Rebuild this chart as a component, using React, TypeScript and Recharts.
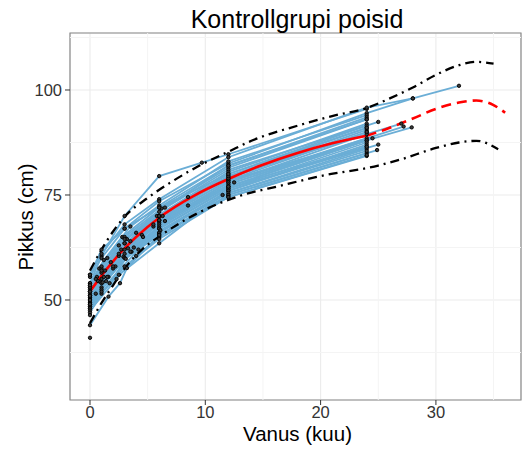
import React from 'react';
import { ComposedChart, Line, XAxis, YAxis, CartesianGrid, ReferenceLine, ReferenceArea } from 'recharts';

// Individual growth measurements (age in months, height in cm)
const kidAges: number[][] = [
  [0, 1, 3, 6, 9.7, 12, 24],
  [0, 1, 3, 6, 12, 24, 28, 32],
  [0, 1, 3, 6, 12, 24, 28],
  [0, 1.2, 3.5, 6, 12, 24],
  [0, 0.8, 2.8, 6, 12, 24],
  [0, 1.5, 3, 6.2, 12, 24],
  [0, 1, 2.5, 6, 12, 25],
  [0, 0.6, 3.2, 5.8, 12, 24],
  [0, 1.8, 4, 6, 12, 24],
  [0, 1, 3, 6, 12, 27],
  [0, 1.3, 2.7, 6.3, 12, 24],
  [0, 0.7, 3.5, 6, 12, 27.9],
  [0, 2, 4.5, 6, 12, 24],
  [0, 1, 3, 5.5, 12, 24],
  [0, 1.2, 2.5, 6, 12, 27.2],
  [0, 0.9, 3.3, 6, 12, 24],
  [0, 1.6, 3.8, 6.5, 12, 24],
  [0, 1, 3, 6, 12, 24],
  [0, 1.1, 2.9, 6, 12, 24],
  [0, 0.5, 2.2, 6, 12, 25],
  [0, 1.4, 3.6, 6.1, 12, 24],
  [0, 1, 3, 6, 12, 24],
  [0, 1.7, 3.1, 6, 12, 24],
  [0, 1, 4.2, 6, 12, 24.9],
  [0, 2.3, 4, 6, 12, 24],
  [0, 1, 3, 6, 12, 24],
  [0, 1.6, 2.6, 3.2, 6, 12, 24],
  [0],
  [0],
  [0, 2, 4.6, 8.5, 12, 24],
  [0, 0.5, 2.5, 5.5, 12, 24],
  [0, 1.5, 3.5, 8.5, 12.5, 24.5],
  [0, 1, 3, 6.5, 12, 24],
  [0, 1, 2.5, 6, 11.5, 24],
  [0, 1, 3, 6, 12, 24],
  [0, 1, 3, 6, 12, 24],
];

const kidHeights: number[][] = [
  [54, 60.5, 70, 79.5, 82.7, 84.7, 95.5],
  [56, 61, 68, 74, 84, 95.8, 98, 101],
  [55.5, 60, 67, 73.5, 82.5, 94.5, 98],
  [54, 59.5, 67.5, 72.5, 83, 94],
  [53.5, 57.5, 65, 72, 82, 93.5],
  [53, 60, 65, 71.8, 81.5, 93],
  [52.5, 57.5, 63, 71, 81, 92.4],
  [52, 55.5, 64.5, 70, 80.5, 92],
  [52, 59, 66, 70, 80, 91.5],
  [51.5, 56.5, 63.5, 70, 79.5, 92],
  [51, 57, 62, 70, 79, 90.5],
  [51, 54.5, 64, 69, 78.5, 91.1],
  [50.5, 57.5, 65.5, 69, 78.5, 90],
  [50.5, 55, 62, 67.5, 78, 89.5],
  [50, 55.5, 60.5, 68.5, 78, 91.3],
  [50, 54.3, 62.3, 68, 77.5, 88.5],
  [49.5, 55.5, 62.5, 68.8, 77, 88],
  [49.5, 54, 61, 67.5, 77, 88],
  [49, 54.2, 60.3, 67, 76.5, 87.5],
  [49, 51.5, 58, 67, 76.5, 87],
  [48.5, 54.5, 61.5, 66.6, 76, 87],
  [48.5, 53, 60, 66, 76, 86.5],
  [48, 54, 59.8, 66, 75.5, 86],
  [48, 52.5, 62, 65.5, 75, 85.7],
  [47.5, 55, 60.5, 65, 75, 85],
  [47, 51.5, 58, 64.5, 74.5, 84.3],
  [44, 50.8, 54, 57.6, 65.5, 74.5, 84.5],
  [41],
  [46.4],
  [52, 58, 65, 74.5, 79, 90],
  [53, 55, 61, 68, 79.5, 91],
  [50, 55.5, 61.5, 72.5, 78, 88.5],
  [51, 57, 64.5, 72, 82, 93],
  [49, 52, 56, 63.5, 75, 85.5],
  [56, 62, 67, 72, 80, 91],
  [53.5, 58, 63.5, 69, 77, 86.5],
];

// Reference curves
const medianAges = [0, 1, 2, 3, 4, 6, 9, 12, 15, 18, 21, 24];
const medianValues = [52, 55.8, 59.2, 62.3, 65, 69.6, 74.8, 78.8, 82.2, 85, 87.3, 89.1];
const medianProjAges = [24, 26, 28, 30, 32, 33.5, 35, 36];
const medianProjValues = [89.1, 91, 93.2, 95.5, 97, 97.5, 96.4, 94.6];
const upperAges = [0, 1, 2, 3, 5, 7, 9.5, 12, 14, 18, 21, 24, 26, 28, 30, 32, 33.5, 35];
const upperValues = [57, 62, 66.3, 69.8, 74.3, 78, 82, 85.3, 87.9, 91.5, 93.8, 95.7, 98, 100.6, 103.6, 105.9, 106.7, 106.3];
const lowerAges = [0, 1, 2, 3, 4.5, 6, 9.5, 13, 16.5, 20, 25, 27, 30, 32, 33.5, 35.4];
const lowerValues = [44.5, 49.3, 53.5, 57.5, 62, 65.1, 70.9, 74.8, 77.2, 79.5, 82, 83.5, 86.2, 87.5, 87.9, 85.9];

const xTicks = [0, 10, 20, 30];
const yTicks = [50, 75, 100];
const xMinor = [5, 15, 25, 35];
const yMinor = [37.5, 62.5, 87.5, 112.5];

const X_DOMAIN: [number, number] = [-1.735, 37.38];
const Y_DOMAIN: [number, number] = [26.19, 113.57];

const toPoints = (xs: number[], ys: number[]) => xs.map((x, i) => ({ x, y: ys[i] }));

const FONT = '"Liberation Sans", Arial, Helvetica, sans-serif';

export default function App() {
  const tickStyle = { fontSize: 16.5, fill: '#333333', fontFamily: FONT };
  return (
    <div style={{ position: 'absolute', left: 0, top: 0, width: 522, height: 451, background: '#fff' }}>
      <ComposedChart
        width={522}
        height={451}
        margin={{ top: 33, right: 1, bottom: 21, left: 0 }}
      >
        <CartesianGrid stroke="#ebebeb" strokeWidth={1.1} />
        {xMinor.map((v) => (
          <ReferenceLine key={'xm' + v} x={v} stroke="#f4f4f4" strokeWidth={1} />
        ))}
        {yMinor.map((v) => (
          <ReferenceLine key={'ym' + v} y={v} stroke="#f4f4f4" strokeWidth={1} />
        ))}
        <XAxis
          type="number"
          dataKey="x"
          domain={X_DOMAIN}
          ticks={xTicks}
          allowDataOverflow
          height={30}
          axisLine={false}
          tickSize={5}
          tickMargin={1}
          tickLine={{ stroke: '#333333' }}
          tick={tickStyle}
        />
        <YAxis
          type="number"
          dataKey="y"
          domain={Y_DOMAIN}
          ticks={yTicks}
          allowDataOverflow
          width={70}
          axisLine={false}
          tickSize={5}
          tickMargin={3}
          tickLine={{ stroke: '#333333' }}
          tick={tickStyle}
        />
        {kidAges.map((ages, k) => (
          <Line
            key={'kid' + k}
            data={toPoints(ages, kidHeights[k])}
            dataKey="y"
            type="linear"
            stroke="#6baed6"
            strokeWidth={1.8}
            dot={{ r: 1.7, fill: '#3a3a3a', stroke: '#000', strokeWidth: 0.9 }}
            isAnimationActive={false}
            legendType="none"
          />
        ))}
        <Line
          data={toPoints(upperAges, upperValues)}
          dataKey="y"
          type="monotone"
          stroke="#000"
          strokeWidth={2.3}
          strokeDasharray="9 5 2 5"
          dot={false}
          isAnimationActive={false}
        />
        <Line
          data={toPoints(lowerAges, lowerValues)}
          dataKey="y"
          type="monotone"
          stroke="#000"
          strokeWidth={2.3}
          strokeDasharray="9 5 2 5"
          dot={false}
          isAnimationActive={false}
        />
        <Line
          data={toPoints(medianAges, medianValues)}
          dataKey="y"
          type="monotone"
          stroke="#ff0000"
          strokeWidth={2.6}
          dot={false}
          isAnimationActive={false}
        />
        <Line
          data={toPoints(medianProjAges, medianProjValues)}
          dataKey="y"
          type="monotone"
          stroke="#ff0000"
          strokeWidth={2.6}
          strokeDasharray="10 6"
          dot={false}
          isAnimationActive={false}
        />
        <ReferenceArea
          x1={X_DOMAIN[0]}
          x2={X_DOMAIN[1]}
          y1={Y_DOMAIN[0]}
          y2={Y_DOMAIN[1]}
          fill="none"
          fillOpacity={0}
          stroke="#8a8a8a"
          strokeWidth={1.2}
          ifOverflow="visible"
        />
      </ComposedChart>
      <svg
        width={522}
        height={451}
        style={{ position: 'absolute', left: 0, top: 0, pointerEvents: 'none' }}
      >
        <text x={297} y={28} textAnchor="middle" fontSize={25} fontFamily={FONT} fill="#000">
          Kontrollgrupi poisid
        </text>
        <text x={297.5} y={441} textAnchor="middle" fontSize={20.5} fontFamily={FONT} fill="#000">
          Vanus (kuu)
        </text>
        <text
          x={0}
          y={0}
          transform="translate(33,217) rotate(-90)"
          textAnchor="middle"
          fontSize={20.5}
          fontFamily={FONT}
          fill="#000"
        >
          Pikkus (cm)
        </text>
      </svg>
    </div>
  );
}
